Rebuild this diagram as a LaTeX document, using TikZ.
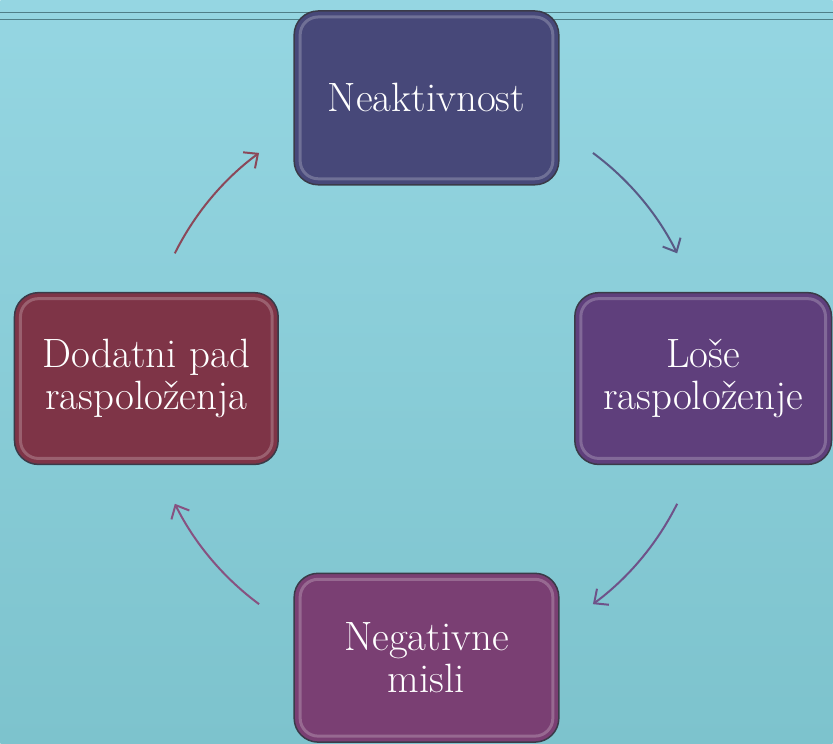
\documentclass[tikz,border=0pt]{standalone}
\usepackage{tikz}
\usetikzlibrary{arrows.meta,calc}
\definecolor{slidetop}{HTML}{95D6E2}
\definecolor{slidebot}{HTML}{7DC3CD}
\definecolor{slideline}{HTML}{4F7F88}
\definecolor{boxedge}{HTML}{3A3A48}
\definecolor{inactblue}{HTML}{474879}
\definecolor{moodviolet}{HTML}{5F3F7C}
\definecolor{thoughtplum}{HTML}{7A3F73}
\definecolor{dropwine}{HTML}{7E3447}

\begin{document}
\begin{tikzpicture}[x=1pt,y=1pt,
  cell/.style={draw=boxedge, line width=1.5pt, rounded corners=24pt,
    minimum width=265pt, minimum height=172pt, text=white, align=center,
    font=\fontsize{41}{42}\selectfont,
    path picture={\draw[white, opacity=.22, line width=3pt, rounded corners=18pt]
      ([shift={(6pt,6pt)}]path picture bounding box.south west) rectangle
      ([shift={(-6pt,-6pt)}]path picture bounding box.north east);}},
  cyclearrow/.style={line width=2pt, -{Straight Barb[length=11pt,width=20pt]}}]
% slide background
\shade[top color=slidetop, bottom color=slidebot] (0,0) rectangle (833,744);
\draw[slideline, line width=1pt] (0,731) -- (833,731);
\draw[slideline, line width=1pt] (0,724) -- (833,724);
% centre of the cycle
\coordinate (hub) at (426,365);
\node[cell, fill=inactblue, minimum height=174pt] (inact) at (426.5,646) {Neaktivnost};
\node[cell, fill=moodviolet, minimum width=257pt] (mood) at (703.5,365) {Loše\\raspoloženje};
\node[cell, fill=thoughtplum, minimum height=169pt] (thought) at (426.5,85.5) {Negativne\\misli};
\node[cell, fill=dropwine, minimum width=264pt] (drop) at (146,365) {Dodatni pad\\raspoloženja};
% arrows round the cycle
\foreach \a/\c in {53.5/inactblue, -26.5/moodviolet, 233.5/thoughtplum, 153.5/dropwine}
  \draw[cyclearrow, draw=\c!90!white] ($(hub)+(\a:281)$) arc[start angle=\a, end angle=\a-27, radius=281];
\end{tikzpicture}
\end{document}
